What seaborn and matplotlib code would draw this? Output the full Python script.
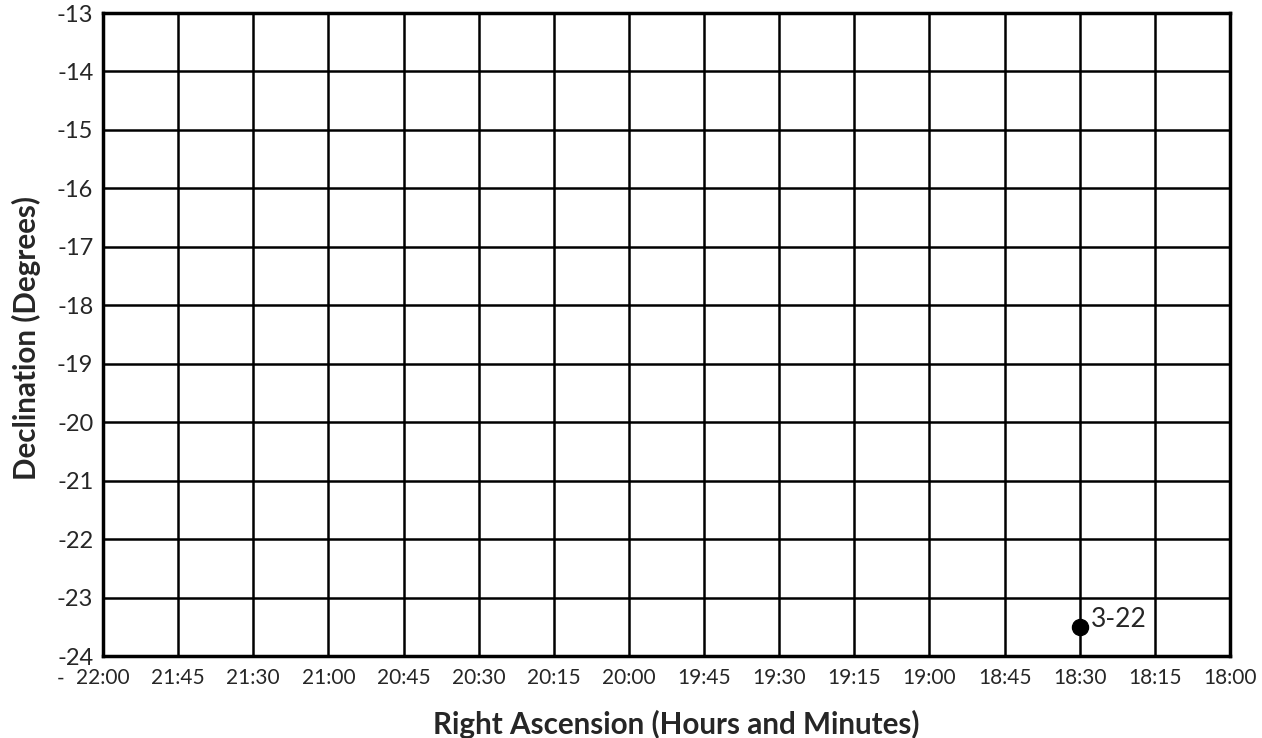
import matplotlib
matplotlib.use("Agg")
import matplotlib.pyplot as plt
import seaborn as sns
import pandas as pd

# Data
ra_labels = ["22:00", "21:45", "21:30", "21:00", "20:45", "20:30", "20:15", "20:00",
             "19:45", "19:30", "19:15", "19:00", "18:45", "18:30", "18:15", "18:00"]
dec_ticks = [-24, -23, -22, -21, -20, -19, -18, -17, -16, -15, -14, -13]
point_dates = ["3-22"]
point_ra = ["18:30"]
point_dec = [-23.5]

sns.set_style("white")
plt.rcParams["font.family"] = ["Lato", "DejaVu Sans"]

fig = plt.figure(figsize=(12.62, 7.38), dpi=100)
ax = fig.add_axes([103 / 1262, 1 - 656 / 738, (1230 - 103) / 1262, (656 - 13) / 738])

df = pd.DataFrame({
    "ra": [ra_labels.index(r) for r in point_ra],
    "dec": point_dec,
    "date": point_dates,
})
sns.scatterplot(data=df, x="ra", y="dec", ax=ax, color="black", s=135,
                edgecolor="black", zorder=5, clip_on=False, legend=False)
for _, row in df.iterrows():
    ax.annotate(row["date"], (row["ra"], row["dec"]), xytext=(8, 0),
                textcoords="offset points", fontsize=19, ha="left", va="baseline")

ax.set_xlim(0, len(ra_labels) - 1)
ax.set_ylim(min(dec_ticks), max(dec_ticks))
ax.set_xticks(range(len(ra_labels)))
ax.set_xticklabels(ra_labels, fontsize=15)
ax.set_yticks(dec_ticks)
ax.set_yticklabels([str(d) for d in dec_ticks], fontsize=17)
ax.tick_params(axis="x", length=0, pad=9)
ax.tick_params(axis="y", length=0, pad=7)

# stray dash left of the first category label
fig.canvas.draw()
first = ax.get_xticklabels()[0]
lbl_y = first.get_window_extent().y1
fig.text((103 - 42) / 1262, lbl_y / 738, "-", fontsize=15, ha="center", va="top")

ax.grid(True, color="black", linewidth=1.8)
ax.set_axisbelow(True)
for sp in ax.spines.values():
    sp.set_color("black")
    sp.set_linewidth(2.5)
    sp.set_visible(True)

ax.set_xlabel("Right Ascension (Hours and Minutes)", fontsize=21.3, fontweight="bold")
ax.xaxis.set_label_coords((676 - 103) / 1127, -0.107)
ax.xaxis.label.set_va("center")
ax.set_ylabel("Declination (Degrees)", fontsize=21.3, fontweight="bold")
ax.yaxis.set_label_coords((26.5 - 103) / 1127, (656 - 338) / 643)
ax.yaxis.label.set_va("center")

fig.savefig("out.png", dpi=100, facecolor="white")
